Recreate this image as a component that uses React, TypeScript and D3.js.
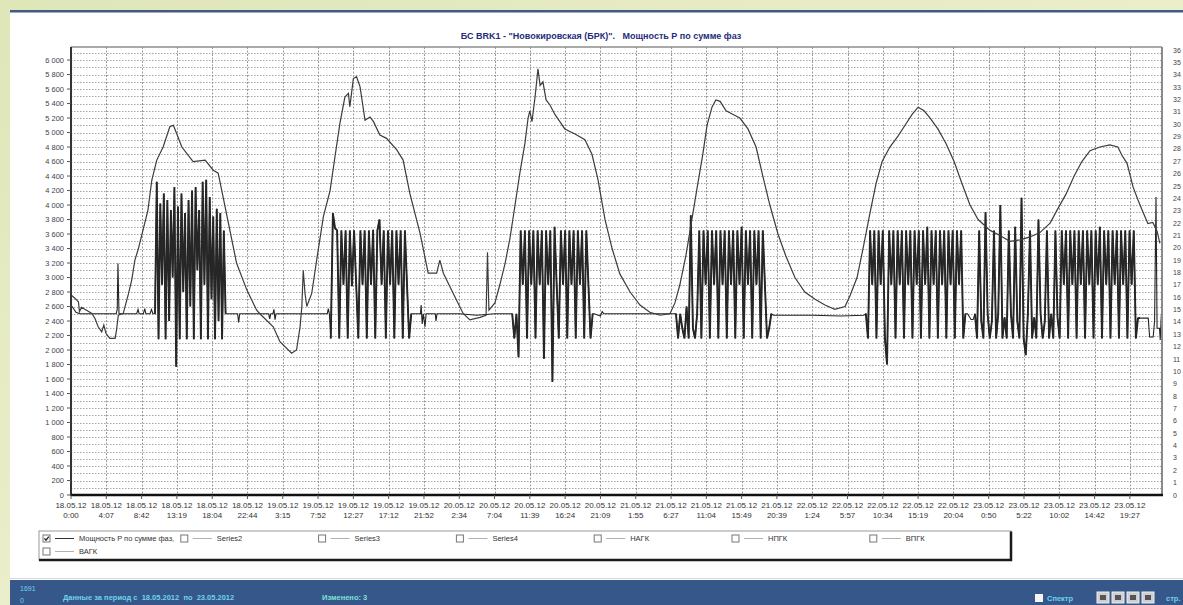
import { useEffect, useRef } from "react";
import * as d3 from "d3";

// x axis = sample number, a label every 100 samples
const samplesPerLabel = 100;
const sampleCount = 3091;
const tickDates = [
  "18.05.12", "18.05.12", "18.05.12", "18.05.12", "18.05.12", "18.05.12",
  "19.05.12", "19.05.12", "19.05.12", "19.05.12", "19.05.12",
  "20.05.12", "20.05.12", "20.05.12", "20.05.12", "20.05.12",
  "21.05.12", "21.05.12", "21.05.12", "21.05.12", "21.05.12",
  "22.05.12", "22.05.12", "22.05.12", "22.05.12", "22.05.12",
  "23.05.12", "23.05.12", "23.05.12", "23.05.12", "23.05.12",
];
const tickTimes = [
  "0:00", "4:07", "8:42", "13:19", "18:04", "22:44",
  "3:15", "7:52", "12:27", "17:12", "21:52",
  "2:34", "7:04", "11:39", "16:24", "21:09",
  "1:55", "6:27", "11:04", "15:49", "20:39",
  "1:24", "5:57", "10:34", "15:19", "20:04",
  "0:50", "5:22", "10:02", "14:42", "19:27",
];

const titleText = "БС BRK1 - \"Новокировская (БРК)\".   Мощность P по сумме фаз";
const legendLabels = ["Мощность P по сумме фаз,", "Series2", "Series3", "Series4", "НАГК", "НПГК", "ВПГК", "ВАГК"];
const legendChecked = [true, false, false, false, false, false, false, false];

// smooth daily curve [sample, value]
const smoothPoints: [number, number][] = [
  [0, 2760], [11, 2715], [21, 2665], [24, 2530], [30, 2590], [44, 2550], [59, 2505], [68, 2435],
  [77, 2320], [87, 2250], [93, 2345], [99, 2230], [110, 2160], [125, 2160], [129, 2275], [134, 2480],
  [148, 2505], [162, 2760], [172, 2965], [181, 3240], [191, 3400], [218, 3930], [229, 4345], [243, 4620],
  [261, 4800], [280, 5080], [290, 5100], [299, 4990], [314, 4800], [346, 4600], [380, 4620], [403, 4480],
  [417, 4440], [431, 4110], [446, 3750], [469, 3200], [498, 2830], [526, 2550], [535, 2500], [573, 2320],
  [592, 2115], [625, 1955], [639, 2000], [649, 2320], [654, 2600], [658, 3100], [663, 2780], [668, 2600],
  [682, 2780], [696, 3240], [715, 3840], [734, 4200], [748, 4670], [762, 5130], [776, 5490], [786, 5540],
  [790, 5355], [800, 5745], [809, 5770], [819, 5630], [833, 5170], [847, 5215], [857, 5150], [875, 4965],
  [894, 4920], [923, 4760], [941, 4620], [960, 4160], [989, 3610], [1012, 3060], [1036, 3060], [1045, 3240],
  [1055, 3060], [1083, 2780], [1111, 2505], [1130, 2415], [1159, 2450], [1176, 2480], [1180, 3350], [1184, 2550],
  [1201, 2650], [1215, 2900], [1230, 3200], [1244, 3550], [1258, 4000], [1272, 4450], [1286, 4850], [1295, 5200],
  [1300, 5300], [1306, 5150], [1315, 5500], [1323, 5880], [1329, 5650], [1337, 5700], [1346, 5450], [1357, 5380],
  [1371, 5250], [1385, 5150], [1399, 5050], [1428, 4980], [1456, 4900], [1476, 4700], [1493, 4350], [1513, 3800],
  [1533, 3400], [1555, 3050], [1584, 2800], [1612, 2620], [1640, 2520], [1669, 2480], [1697, 2500], [1711, 2650],
  [1725, 2900], [1742, 3300], [1759, 3800], [1776, 4300], [1790, 4700], [1802, 5100], [1816, 5350], [1827, 5450],
  [1839, 5430], [1856, 5300], [1876, 5250], [1895, 5200], [1918, 5050], [1941, 4800], [1960, 4400], [1980, 4000],
  [2003, 3600], [2025, 3300], [2051, 3000], [2079, 2800], [2108, 2700], [2136, 2620], [2164, 2560], [2193, 2600],
  [2207, 2750], [2227, 3000], [2244, 3400], [2264, 3900], [2281, 4300], [2298, 4600], [2320, 4800], [2343, 4950],
  [2363, 5100], [2383, 5250], [2400, 5350], [2417, 5300], [2434, 5200], [2456, 5050], [2479, 4850], [2502, 4600],
  [2524, 4300], [2547, 4000], [2570, 3800], [2604, 3650], [2632, 3580], [2660, 3500], [2689, 3520], [2717, 3560],
  [2745, 3620], [2774, 3750], [2796, 3950], [2819, 4150], [2842, 4400], [2864, 4600], [2887, 4750], [2915, 4800],
  [2943, 4830], [2966, 4800], [2977, 4690], [2992, 4575], [3009, 4250], [3023, 4070], [3037, 3905], [3051, 3745],
  [3065, 3760], [3077, 3640], [3085, 3470],
];

// load line outside the switching periods [sample, value]
const loadPoints: [number, number][] = [
  [0, 2620], [6, 2580], [14, 2520], [25, 2500], [128, 2500], [131, 2560], [133, 3195], [136, 2500],
  [186, 2500], [190, 2560], [193, 2500], [205, 2500], [209, 2570], [212, 2500], [224, 2500], [228, 2560], [232, 2500],
  [442, 2500], [472, 2500], [475, 2380], [478, 2500], [560, 2500], [563, 2430], [566, 2500], [572, 2500],
  [575, 2560], [578, 2420], [581, 2500], [726, 2500], [729, 2570], [732, 2500],
  [968, 2500], [990, 2500], [992, 2620], [995, 2360], [998, 2500], [1003, 2320], [1006, 2500], [1032, 2500],
  [1034, 2400], [1037, 2500], [1100, 2500], [1150, 2480], [1200, 2500], [1244, 2500],
  [1482, 2500], [1500, 2470], [1505, 2530], [1510, 2500], [1710, 2500],
  [1990, 2480], [2100, 2480], [2180, 2470], [2246, 2480],
  [2540, 2500], [2550, 2420], [2556, 2420],
  [3036, 2440], [3052, 2440], [3056, 2180], [3066, 2180], [3070, 2400], [3074, 4110], [3077, 2300],
  [3084, 2300], [3086, 2140], [3089, 2480],
];

// switching periods: regular samples from a start sample
const blockStarts = [238, 736, 1250, 1714, 2252, 2561];
const blockSteps = [5, 6, 6, 6, 6, 6];
const block1 = [2500, 4320, 2150, 4020, 2900, 4160, 2150, 4070, 2400, 3930, 3000, 4250, 1770, 3980, 2150, 4160, 2800, 3890, 2150, 4070, 2600, 4200, 2150, 4250, 3100, 3930, 2150, 4320, 2900, 4350, 2150, 4110, 2700, 3840, 2150, 3950, 2400, 3890, 2150, 3650, 2500];
const block2 = [2160, 3890, 3680, 3650, 2160, 3650, 2900, 3650, 2160, 3650, 2880, 3650, 2900, 2160, 3650, 2900, 3650, 2160, 3650, 2900, 3660, 2160, 3650, 3800, 2900, 3650, 2160, 3650, 2900, 3650, 2160, 3650, 2900, 3650, 2160, 3650, 2900, 2160, 2500];
const block3 = [2500, 2160, 2500, 1900, 3650, 2900, 3650, 2160, 3650, 2900, 3650, 2160, 3650, 2900, 3650, 1880, 3650, 2900, 3650, 1560, 3700, 2900, 2160, 3650, 2900, 3650, 2160, 3650, 2900, 3650, 2160, 3650, 2900, 3650, 2160, 3650, 2900, 2160, 2500];
const block4 = [2500, 2160, 2500, 2300, 2160, 2600, 2160, 3860, 2300, 2160, 2500, 3650, 2160, 3650, 2900, 3650, 2160, 3650, 2900, 3650, 2160, 3650, 2900, 3650, 2160, 3650, 2900, 3650, 2160, 3650, 2900, 3700, 2160, 3650, 2900, 3650, 2160, 3650, 2900, 3650, 2160, 3650, 2900, 2160, 2300, 2500];
const block5 = [2500, 2160, 3650, 2900, 3650, 2160, 3650, 2900, 3650, 2160, 1800, 3650, 2900, 3650, 2160, 3650, 2900, 3650, 2160, 3650, 2900, 3650, 2160, 3650, 2900, 3650, 2160, 3650, 2900, 3700, 2160, 3650, 2900, 3650, 2160, 3650, 2900, 3650, 2160, 3650, 2900, 3650, 2160, 3650, 2900, 3650, 2160, 2500];
const block6 = [2500, 2160, 3650, 2400, 2160, 3900, 2500, 2160, 2400, 3650, 2160, 2500, 4000, 2160, 2450, 2160, 3650, 2500, 2160, 3700, 2400, 2160, 4100, 2160, 1930, 2500, 3650, 2160, 2450, 2160, 3800, 2500, 2160, 2400, 3650, 2160, 2500, 2160, 3650, 2450, 2160,
  3650, 2900, 3650, 2160, 3650, 2900, 3650, 2160, 3650, 2900, 3650, 2160, 3650, 2900, 3650, 2160, 3650, 2900, 3700, 2160, 3650, 2900, 3650, 2160, 3650, 2900, 3650, 2160, 3650, 2900, 3650, 2160, 3650, 2900, 3650, 2160, 2440, 2440];

const W = 1183;
const H = 605;
const plot = { left: 71, right: 1162, top: 47, bottom: 495 };
const font = "'Liberation Sans', Arial, sans-serif";

const App = () => {
  const svgRef = useRef<SVGSVGElement>(null);

  useEffect(() => {
    const svg = d3.select(svgRef.current);
    svg.selectAll("*").remove();

    const x = d3.scaleLinear().domain([0, sampleCount]).range([plot.left, plot.right]);
    const yL = d3.scaleLinear().domain([0, 6180]).range([plot.bottom, plot.top]);
    const yR = d3.scaleLinear().domain([0, 36.25]).range([plot.bottom, plot.top]);
    const fmt = d3.formatLocale({ thousands: "\u00a0", grouping: [3], decimal: ",", currency: ["", ""] }).format(",d");

    const defs = svg.append("defs");
    const bg = defs.append("linearGradient").attr("id", "bg").attr("x1", 0).attr("y1", 0).attr("x2", 1).attr("y2", 1);
    bg.append("stop").attr("offset", "0%").attr("stop-color", "#dfe6b8");
    bg.append("stop").attr("offset", "50%").attr("stop-color", "#eaeecb");
    bg.append("stop").attr("offset", "100%").attr("stop-color", "#e3e9bd");
    defs.append("clipPath").attr("id", "plotClip").append("rect")
      .attr("x", plot.left).attr("y", plot.top)
      .attr("width", plot.right - plot.left).attr("height", plot.bottom - plot.top);

    // page + panel
    svg.append("rect").attr("width", W).attr("height", H).attr("fill", "url(#bg)");
    svg.append("rect").attr("x", 10).attr("y", 12).attr("width", W - 10).attr("height", 568).attr("fill", "#ffffff");
    svg.append("rect").attr("x", 10).attr("y", 10).attr("width", W - 10).attr("height", 2.5).attr("fill", "#3f5b86");
    svg.append("line").attr("x1", 10).attr("x2", W).attr("y1", 578.5).attr("y2", 578.5).attr("stroke", "#d8d8d8");

    svg.append("text")
      .attr("x", 601).attr("y", 39).attr("text-anchor", "middle")
      .attr("font-size", 9).attr("font-weight", "bold").attr("fill", "#1f2d7a")
      .style("white-space", "pre").text(titleText);

    // grid
    const g = svg.append("g");
    g.selectAll(".hgrid").data(d3.range(100, 6180, 100)).enter().append("line")
      .attr("x1", plot.left).attr("x2", plot.right)
      .attr("y1", (d) => Math.round(yL(d)) + 0.5).attr("y2", (d) => Math.round(yL(d)) + 0.5)
      .attr("stroke", "#a6a6a6").attr("stroke-dasharray", "1.5,1.5");
    const tickSamples = tickTimes.map((_, i) => i * samplesPerLabel);
    g.selectAll(".vgrid").data(tickSamples.slice(1)).enter().append("line")
      .attr("x1", (d) => Math.round(x(d)) + 0.5).attr("x2", (d) => Math.round(x(d)) + 0.5)
      .attr("y1", plot.top).attr("y2", plot.bottom)
      .attr("stroke", "#999").attr("stroke-dasharray", "2,1.5");

    // series
    const blocks = [block1, block2, block3, block4, block5, block6].map((vals, b) =>
      vals.map((v, i) => [blockStarts[b] + i * blockSteps[b], v] as [number, number]));
    const loadSeries: [number, number][] = [...loadPoints, ...blocks.flat()].sort((a, b) => a[0] - b[0]);

    const lineGen = d3.line<[number, number]>().x((d) => x(d[0])).y((d) => yL(d[1]));
    const data = g.append("g").attr("clip-path", "url(#plotClip)");
    data.append("path").attr("d", lineGen(loadSeries)).attr("fill", "none")
      .attr("stroke", "#242424").attr("stroke-width", 1.1);
    // the switching periods are drawn heavier, as densely packed samples look in the original
    data.selectAll(".blk").data(blocks).enter().append("path")
      .attr("d", (d) => lineGen(d)).attr("fill", "none")
      .attr("stroke", "#262626").attr("stroke-width", 1.9).attr("stroke-linejoin", "bevel");
    data.append("path").attr("d", lineGen(smoothPoints)).attr("fill", "none")
      .attr("stroke", "#3c3c3c").attr("stroke-width", 1.2);

    // frame
    g.append("line").attr("x1", plot.left).attr("x2", plot.right).attr("y1", plot.top).attr("y2", plot.top)
      .attr("stroke", "#8c8c8c").attr("stroke-width", 1.5);
    g.append("line").attr("x1", plot.right).attr("x2", plot.right).attr("y1", plot.top).attr("y2", plot.bottom)
      .attr("stroke", "#8a8a8a").attr("stroke-width", 2);
    g.append("line").attr("x1", plot.left).attr("x2", plot.left).attr("y1", plot.top).attr("y2", plot.bottom + 1)
      .attr("stroke", "#333").attr("stroke-width", 2);
    g.append("line").attr("x1", plot.left).attr("x2", plot.right + 1).attr("y1", plot.bottom).attr("y2", plot.bottom)
      .attr("stroke", "#111").attr("stroke-width", 2.5);

    // left axis
    const leftTicks = d3.range(0, 6001, 200);
    g.selectAll(".ltick").data(leftTicks).enter().append("line")
      .attr("x1", plot.left - 4).attr("x2", plot.left)
      .attr("y1", (d) => yL(d)).attr("y2", (d) => yL(d)).attr("stroke", "#555");
    g.selectAll(".llab").data(leftTicks).enter().append("text")
      .attr("x", plot.left - 7).attr("y", (d) => yL(d) + 2.6).attr("text-anchor", "end")
      .attr("font-size", 7.5).attr("fill", "#444").text((d) => fmt(d));

    // right axis
    g.selectAll(".rlab").data(d3.range(0, 37)).enter().append("text")
      .attr("x", plot.right + 11).attr("y", (d) => yR(d) + 2.5)
      .attr("font-size", 7).attr("fill", "#444").text((d) => d);

    // bottom axis
    g.selectAll(".btick").data(tickSamples).enter().append("line")
      .attr("x1", (d) => x(d)).attr("x2", (d) => x(d))
      .attr("y1", plot.bottom).attr("y2", plot.bottom + 4).attr("stroke", "#555");
    const blab = g.selectAll(".blab").data(tickSamples).enter().append("text")
      .attr("text-anchor", "middle").attr("font-size", 8).attr("fill", "#333");
    blab.append("tspan").attr("x", (d) => x(d)).attr("y", 508).text((_, i) => tickDates[i]);
    blab.append("tspan").attr("x", (d) => x(d)).attr("y", 518).text((_, i) => tickTimes[i]);

    // legend
    const lg = svg.append("g");
    lg.append("rect").attr("x", 39).attr("y", 531).attr("width", 972).attr("height", 29)
      .attr("fill", "#fff").attr("stroke", "#9a9a9a");
    lg.append("path").attr("d", "M1011,531.5 V560 H39").attr("fill", "none").attr("stroke", "#1a1a1a").attr("stroke-width", 2.5);
    const item = lg.selectAll(".item").data(legendLabels).enter().append("g")
      .attr("transform", (_, i) => `translate(${43 + (i % 7) * 137.8},${535 + Math.floor(i / 7) * 13})`);
    item.append("rect").attr("width", 7).attr("height", 7).attr("fill", "#fff").attr("stroke", "#777");
    item.filter((_, i) => legendChecked[i]).append("path")
      .attr("d", "M1.4,3.4 L3,5.2 L5.8,1.6").attr("fill", "none").attr("stroke", "#222").attr("stroke-width", 1.3);
    item.append("line").attr("x1", 12).attr("x2", 31).attr("y1", 3.5).attr("y2", 3.5)
      .attr("stroke", (_, i) => (legendChecked[i] ? "#333" : "#b0b0b0"));
    item.append("text").attr("x", 36).attr("y", 6.3).attr("font-size", 7.5).attr("fill", "#333").text((d) => d);

    // status bar
    const sb = svg.append("g");
    sb.append("rect").attr("x", 10).attr("y", 580).attr("width", W - 10).attr("height", 25).attr("fill", "#36578a");
    sb.append("text").attr("x", 20).attr("y", 591).attr("font-size", 7).attr("fill", "#6fd2ef").text("1691");
    sb.append("text").attr("x", 20).attr("y", 603).attr("font-size", 7).attr("fill", "#6fd2ef").text("0");
    sb.append("text").attr("x", 63).attr("y", 600).attr("font-size", 7.5).attr("font-weight", "bold")
      .attr("fill", "#6fd2ef").style("white-space", "pre").text("Данные за период с  18.05.2012  по  23.05.2012");
    sb.append("text").attr("x", 322).attr("y", 600).attr("font-size", 7.5).attr("font-weight", "bold")
      .attr("fill", "#7fe0d8").text("Изменено: 3");
    sb.append("rect").attr("x", 1035).attr("y", 594).attr("width", 8).attr("height", 8).attr("fill", "#f4f4f4");
    sb.append("text").attr("x", 1047).attr("y", 601).attr("font-size", 7.5).attr("font-weight", "bold")
      .attr("fill", "#6fd2ef").text("Спектр");
    const btn = sb.selectAll(".btn").data(["first", "prev", "next", "last"]).enter().append("g")
      .attr("transform", (_, i) => `translate(${1097 + i * 15},592)`);
    btn.append("rect").attr("width", 12).attr("height", 11).attr("fill", "#cfcfcf").attr("stroke", "#eee");
    btn.append("rect").attr("x", 3).attr("y", 3).attr("width", 6).attr("height", 5).attr("fill", "#555");
    sb.append("text").attr("x", 1166).attr("y", 601).attr("font-size", 7.5).attr("font-weight", "bold")
      .attr("fill", "#6fd2ef").text("стр.");
  }, []);

  return (
    <div style={{ position: "fixed", left: 0, top: 0 }}>
      <svg ref={svgRef} width={W} height={H} style={{ display: "block", fontFamily: font }} />
    </div>
  );
};

export default App;
